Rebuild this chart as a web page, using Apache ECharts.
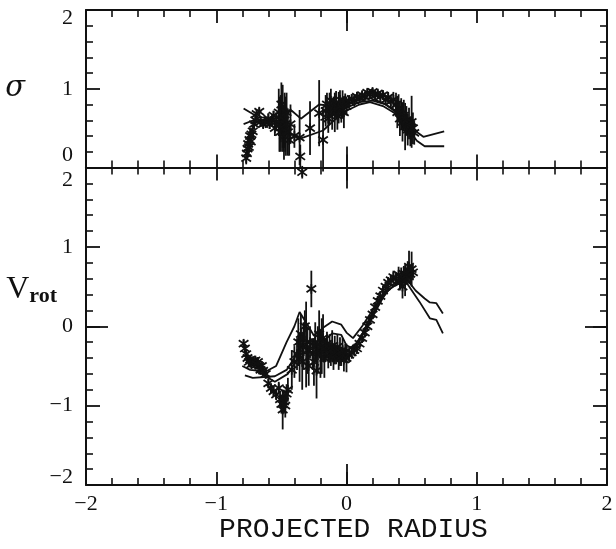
<!DOCTYPE html>
<html>
<head>
<meta charset="utf-8">
<script src="https://cdn.jsdelivr.net/npm/echarts@6.0.0/dist/echarts.min.js"></script>
<style>
  html, body { margin: 0; padding: 0; background: #fff; }
  #chart { width: 616px; height: 549px; }
</style>
</head>
<body>
<div id="chart"></div>
<script>
// sigma panel: x, value, half error bar
var sigmaX = [-0.77, -0.765, -0.76, -0.755, -0.75, -0.745, -0.74, -0.735, -0.73, -0.72, -0.71, -0.70, -0.69,
  -0.67, -0.66, -0.64, -0.62, -0.60, -0.59, -0.57, -0.56, -0.55, -0.54,
  -0.52, -0.515, -0.51, -0.505, -0.50, -0.495, -0.49, -0.485, -0.48, -0.475, -0.47, -0.465, -0.46, -0.45, -0.44, -0.43,
  -0.40, -0.36, -0.355, -0.34, -0.28, -0.21, -0.18,
  -0.16, -0.15, -0.14, -0.13, -0.12, -0.11, -0.10, -0.09, -0.08, -0.07, -0.06, -0.05, -0.04, -0.03, -0.02, -0.01, 0.00,
  0.02, 0.04, 0.06, 0.08, 0.10, 0.12, 0.14, 0.16, 0.18, 0.20, 0.22, 0.24, 0.26, 0.28, 0.30, 0.32, 0.34, 0.36,
  0.38, 0.39, 0.40, 0.41, 0.42, 0.43, 0.44, 0.45, 0.46, 0.47, 0.48, 0.49, 0.50, 0.51, 0.52];
var sigmaVal = [0.12, 0.18, 0.24, 0.30, 0.26, 0.35, 0.40, 0.33, 0.42, 0.46, 0.55, 0.60, 0.68,
  0.71, 0.58, 0.55, 0.57, 0.62, 0.55, 0.60, 0.66, 0.50, 0.58,
  0.70, 0.55, 0.45, 0.62, 0.80, 0.55, 0.65, 0.50, 0.40, 0.60, 0.55, 0.45, 0.70, 0.45, 0.35, 0.55,
  0.40, 0.38, 0.14, -0.06, 0.50, 0.69, 0.35,
  0.72, 0.80, 0.62, 0.75, 0.85, 0.68, 0.78, 0.70, 0.82, 0.66, 0.76, 0.86, 0.72, 0.80, 0.70, 0.84, 0.78,
  0.84, 0.87, 0.85, 0.90, 0.88, 0.92, 0.90, 0.95, 0.93, 0.96, 0.92, 0.94, 0.90, 0.92, 0.86, 0.89, 0.84, 0.86,
  0.80, 0.70, 0.75, 0.62, 0.68, 0.58, 0.66, 0.52, 0.60, 0.48, 0.56, 0.45, 0.58, 0.50, 0.44];
var sigmaErr = [0.08, 0.08, 0.10, 0.10, 0.12, 0.10, 0.10, 0.10, 0.08, 0.08, 0.06, 0.06, 0.05,
  0.05, 0.06, 0.05, 0.06, 0.07, 0.06, 0.08, 0.06, 0.10, 0.12,
  0.30, 0.35, 0.25, 0.30, 0.28, 0.35, 0.40, 0.30, 0.30, 0.35, 0.35, 0.30, 0.25, 0.30, 0.20, 0.25,
  0.15, 0.35, 0.15, 0.08, 0.34, 0.42, 0.40,
  0.20, 0.15, 0.18, 0.20, 0.15, 0.20, 0.12, 0.25, 0.15, 0.18, 0.20, 0.12, 0.15, 0.18, 0.20, 0.10, 0.12,
  0.08, 0.06, 0.07, 0.06, 0.05, 0.05, 0.05, 0.05, 0.04, 0.05, 0.05, 0.05, 0.05, 0.06, 0.06, 0.07, 0.08, 0.10,
  0.15, 0.20, 0.18, 0.22, 0.20, 0.25, 0.20, 0.30, 0.18, 0.20, 0.20, 0.18, 0.33, 0.20, 0.15];

// rotation panel: x, value, half error bar
var vrotX = [-0.79, -0.78, -0.77, -0.76, -0.75, -0.74, -0.73, -0.72, -0.71, -0.70, -0.69, -0.68, -0.67, -0.66, -0.65, -0.64,
  -0.62, -0.60, -0.58, -0.56, -0.54, -0.52, -0.51, -0.50, -0.49, -0.48, -0.47, -0.46, -0.45,
  -0.42, -0.40, -0.38, -0.37, -0.36, -0.35, -0.34, -0.33, -0.32, -0.31, -0.30, -0.29, -0.28, -0.27, -0.26, -0.25, -0.24,
  -0.23, -0.22, -0.21, -0.20, -0.19, -0.18, -0.17, -0.16, -0.15, -0.14, -0.13, -0.12, -0.11, -0.10, -0.09, -0.08,
  -0.07, -0.06, -0.05, -0.04, -0.03, -0.02, -0.01, 0.00,
  0.02, 0.04, 0.06, 0.08, 0.10, 0.12, 0.14, 0.16, 0.18, 0.20, 0.22, 0.24, 0.26, 0.28, 0.30, 0.32, 0.34, 0.36,
  0.38, 0.40, 0.41, 0.42, 0.43, 0.44, 0.45, 0.46, 0.47, 0.48, 0.49, 0.50, 0.51];
var vrotVal = [-0.22, -0.28, -0.35, -0.40, -0.45, -0.42, -0.48, -0.44, -0.47, -0.43, -0.48, -0.45, -0.50, -0.55, -0.50, -0.56,
  -0.60, -0.72, -0.78, -0.82, -0.86, -0.78, -0.92, -0.98, -1.05, -0.95, -1.00, -0.85, -0.80,
  -0.55, -0.45, -0.35, -0.20, -0.40, -0.10, -0.45, -0.25, 0.00, -0.23, -0.30, -0.50, -0.20, 0.47, -0.35, -0.45, -0.20,
  -0.56, -0.30, -0.10, -0.35, -0.25, -0.15, -0.40, -0.30, -0.22, -0.38, -0.28, -0.35, -0.25, -0.40, -0.30, -0.36,
  -0.26, -0.40, -0.32, -0.38, -0.30, -0.42, -0.34, -0.40,
  -0.36, -0.33, -0.30, -0.28, -0.22, -0.15, -0.08, 0.00, 0.08, 0.15, 0.24, 0.32, 0.38, 0.45, 0.50, 0.55, 0.58, 0.62,
  0.60, 0.65, 0.55, 0.62, 0.50, 0.66, 0.58, 0.64, 0.70, 0.75, 0.66, 0.72, 0.68];
var vrotErr = [0.05, 0.05, 0.06, 0.05, 0.05, 0.05, 0.05, 0.05, 0.05, 0.05, 0.05, 0.06, 0.05, 0.06, 0.06, 0.06,
  0.06, 0.06, 0.06, 0.06, 0.07, 0.08, 0.10, 0.12, 0.25, 0.15, 0.15, 0.12, 0.15,
  0.25, 0.20, 0.20, 0.30, 0.30, 0.25, 0.35, 0.30, 0.20, 0.54, 0.30, 0.25, 0.20, 0.23, 0.20, 0.30, 0.25,
  0.35, 0.30, 0.30, 0.30, 0.35, 0.30, 0.25, 0.15, 0.15, 0.15, 0.18, 0.15, 0.20, 0.15, 0.18, 0.12,
  0.15, 0.15, 0.18, 0.12, 0.15, 0.15, 0.12, 0.18,
  0.10, 0.08, 0.08, 0.07, 0.07, 0.06, 0.06, 0.06, 0.06, 0.06, 0.06, 0.06, 0.06, 0.06, 0.06, 0.07, 0.07, 0.08,
  0.08, 0.10, 0.10, 0.12, 0.15, 0.10, 0.20, 0.10, 0.12, 0.20, 0.12, 0.22, 0.10];

// model curves
var sigmaModel1 = [[-0.79, 0.75], [-0.68, 0.64], [-0.55, 0.62], [-0.42, 0.72], [-0.35, 0.62], [-0.21, 0.80], [-0.10, 0.78],
  [0.00, 0.80], [0.10, 0.86], [0.18, 0.88], [0.28, 0.82], [0.38, 0.72], [0.46, 0.58], [0.54, 0.45], [0.59, 0.39], [0.75, 0.46]];
var sigmaModel2 = [[-0.79, 0.55], [-0.70, 0.61], [-0.55, 0.58], [-0.45, 0.45], [-0.35, 0.37], [-0.18, 0.47], [-0.08, 0.62],
  [0.00, 0.72], [0.10, 0.80], [0.18, 0.83], [0.28, 0.78], [0.38, 0.68], [0.46, 0.52], [0.54, 0.34], [0.60, 0.27], [0.75, 0.27]];
var sigmaModel3 = [[-0.20, 0.60], [0.00, 0.76], [0.10, 0.83], [0.20, 0.85], [0.30, 0.80], [0.40, 0.68], [0.50, 0.48]];

var vrotModel1 = [[-0.80, -0.50], [-0.74, -0.55], [-0.62, -0.57], [-0.54, -0.50], [-0.46, -0.20], [-0.40, 0.00], [-0.36, 0.18],
  [-0.30, 0.02], [-0.25, -0.12], [-0.18, -0.02], [-0.11, 0.06], [-0.04, 0.02], [0.00, -0.08], [0.05, -0.15], [0.12, 0.00],
  [0.18, 0.15], [0.26, 0.35], [0.33, 0.50], [0.40, 0.57], [0.46, 0.60], [0.53, 0.45], [0.60, 0.35], [0.64, 0.30],
  [0.69, 0.29], [0.74, 0.16]];
var vrotModel2 = [[-0.78, -0.62], [-0.72, -0.65], [-0.55, -0.63], [-0.46, -0.55], [-0.40, -0.40], [-0.35, -0.25], [-0.28, -0.30],
  [-0.23, -0.25], [-0.17, -0.18], [-0.11, -0.09], [-0.04, -0.11], [0.00, -0.24], [0.05, -0.28], [0.12, -0.10], [0.18, 0.10],
  [0.26, 0.32], [0.33, 0.47], [0.40, 0.54], [0.46, 0.55], [0.56, 0.31], [0.64, 0.10], [0.69, 0.08], [0.74, -0.09]];
var vrotModel3 = [[-0.70, -0.55], [-0.55, -0.70], [-0.45, -0.60], [-0.35, -0.35], [-0.20, -0.30], [0.00, -0.32], [0.10, -0.18],
  [0.20, 0.12], [0.30, 0.42], [0.40, 0.56], [0.48, 0.58]];

var xTicks = [-2, -1, 0, 1, 2];

function zip(xs, ys, es) {
  var out = [];
  for (var i = 0; i < xs.length; i++) {
    out.push([xs[i], ys[i], es[i]]);
  }
  return out;
}

function fmt(v) {
  return v < 0 ? '\u2212' + (-v) : String(v);
}

var chart = echarts.init(document.getElementById('chart'));

var ink = '#111';
var labelFont = 'Liberation Serif';

function xAx(grid, pos, showLabel) {
  return {
    type: 'value', gridIndex: grid, position: pos, min: -2, max: 2, interval: 1,
    axisLine: { show: true, onZero: false, lineStyle: { color: ink, width: 2 } },
    axisTick: { show: true, inside: true, length: 13, lineStyle: { color: ink, width: 1.8 } },
    minorTick: { show: true, splitNumber: 5, length: 7, lineStyle: { color: ink, width: 1.6 } },
    axisLabel: {
      show: showLabel, color: ink, fontFamily: labelFont, fontSize: 22, margin: 8,
      customValues: xTicks, formatter: fmt
    },
    splitLine: { show: false }
  };
}

// extra axis used only for the longer tick at zero
function xZero(grid, pos) {
  return {
    type: 'value', gridIndex: grid, position: pos, min: -2, max: 2, interval: 1,
    axisLine: { show: false, onZero: false },
    axisTick: { show: true, inside: true, length: 21, customValues: [0], lineStyle: { color: ink, width: 1.8 } },
    axisLabel: { show: false },
    splitLine: { show: false }
  };
}

function yAx(grid, pos, min, max, showLabel, formatter) {
  return {
    type: 'value', gridIndex: grid, position: pos, min: min, max: max, interval: 1,
    axisLine: { show: true, onZero: false, lineStyle: { color: ink, width: 2 } },
    axisTick: { show: true, inside: true, length: 14, lineStyle: { color: ink, width: 1.8 } },
    minorTick: { show: true, splitNumber: 5, length: 7, lineStyle: { color: ink, width: 1.6 } },
    axisLabel: {
      show: showLabel, color: ink, fontFamily: labelFont, fontSize: 22, margin: 13,
      formatter: formatter,
      rich: {
        s8: { lineHeight: 16, fontSize: 22, fontFamily: labelFont },
        s12: { lineHeight: 25, fontSize: 22, fontFamily: labelFont },
        n: { lineHeight: 20, fontSize: 22, fontFamily: labelFont, color: ink }
      }
    },
    splitLine: { show: false }
  };
}

function yZero(grid, pos, min, max) {
  return {
    type: 'value', gridIndex: grid, position: pos, min: min, max: max, interval: 1,
    axisLine: { show: false, onZero: false },
    axisTick: { show: true, inside: true, length: 22, customValues: [0], lineStyle: { color: ink, width: 1.8 } },
    axisLabel: { show: false },
    splitLine: { show: false }
  };
}

function starItem(params, api) {
  var x = api.value(0), y = api.value(1), e = api.value(2);
  var c = api.coord([x, y]);
  var hi = api.coord([x, y + e]);
  var lo = api.coord([x, y - e]);
  var s = 4.8, t = 3.4;
  var st = { stroke: ink, lineWidth: 1.8 };
  return {
    type: 'group',
    children: [
      { type: 'line', shape: { x1: c[0], y1: hi[1], x2: c[0], y2: lo[1] }, style: st },
      { type: 'line', shape: { x1: c[0], y1: c[1] - s, x2: c[0], y2: c[1] + s }, style: st },
      { type: 'line', shape: { x1: c[0] - s, y1: c[1] - t, x2: c[0] + s, y2: c[1] + t }, style: st },
      { type: 'line', shape: { x1: c[0] - s, y1: c[1] + t, x2: c[0] + s, y2: c[1] - t }, style: st }
    ]
  };
}

function model(name, xi, yi, data) {
  return {
    name: name, type: 'line', xAxisIndex: xi, yAxisIndex: yi, data: data,
    showSymbol: false, clip: false, silent: true,
    lineStyle: { color: ink, width: 1.8 }, z: 3
  };
}

var option = {
  backgroundColor: '#fff',
  animation: false,
  grid: [
    { left: 86, top: 10, width: 521, height: 157.5, containLabel: false, outerBoundsMode: 'none' },
    { left: 86, top: 167.5, width: 521, height: 317.5, containLabel: false, outerBoundsMode: 'none' }
  ],
  xAxis: [
    xAx(0, 'bottom', false),
    xAx(0, 'top', false),
    (function () {
      var a = xAx(1, 'bottom', true);
      a.name = 'PROJECTED RADIUS';
      a.nameLocation = 'middle';
      a.nameGap = 31;
      a.nameMoveOverlap = false;
      a.nameTextStyle = { color: ink, fontFamily: 'Liberation Mono', fontSize: 28, padding: [0, 0, 0, 14] };
      return a;
    })(),
    xAx(1, 'top', false),
    xZero(0, 'bottom'), xZero(0, 'top'), xZero(1, 'bottom'), xZero(1, 'top')
  ],
  yAxis: [
    (function () {
      var a = yAx(0, 'left', 0, 2, true, function (v) {
        if (v === 2) return '{s8| }\n{n|2}';
        if (v === 0) return '{n|0}\n{s12| }';
        return '{n|' + fmt(v) + '}';
      });
      a.name = '{sig|\u03c3}';
      a.nameLocation = 'middle';
      a.nameRotate = 0;
      a.nameGap = 61;
      a.nameMoveOverlap = false;
      a.nameTextStyle = { rich: { sig: { fontFamily: 'DejaVu Serif', fontStyle: 'italic', fontSize: 29, color: ink } } };
      return a;
    })(),
    yAx(0, 'right', 0, 2, false),
    (function () {
      var a = yAx(1, 'left', -2, 2, true, function (v) {
        if (v === 2) return '{s12| }\n{n|2}';
        if (v === -2) return '{n|' + fmt(v) + '}\n{s8| }';
        return '{n|' + fmt(v) + '}';
      });
      a.name = '{v|V}{r|rot}';
      a.nameLocation = 'middle';
      a.nameRotate = 0;
      a.nameGap = 29;
      a.nameMoveOverlap = false;
      a.nameTextStyle = {
        padding: [0, 0, 72, 0],
        rich: {
          v: { fontFamily: 'Liberation Serif', fontSize: 32, color: ink, lineHeight: 34, verticalAlign: 'top' },
          r: { fontFamily: 'Liberation Serif', fontWeight: 'bold', fontSize: 22, color: ink, lineHeight: 34, verticalAlign: 'bottom' }
        }
      };
      return a;
    })(),
    yAx(1, 'right', -2, 2, false),
    yZero(1, 'left', -2, 2), yZero(1, 'right', -2, 2)
  ],
  series: [
    model('sigma model 1', 0, 0, sigmaModel1),
    model('sigma model 2', 0, 0, sigmaModel2),
    model('sigma model 3', 0, 0, sigmaModel3),
    model('vrot model 1', 2, 2, vrotModel1),
    model('vrot model 2', 2, 2, vrotModel2),
    model('vrot model 3', 2, 2, vrotModel3),
    {
      name: 'sigma', type: 'custom', xAxisIndex: 0, yAxisIndex: 0, clip: false, silent: true,
      renderItem: starItem, data: zip(sigmaX, sigmaVal, sigmaErr), z: 4
    },
    {
      name: 'vrot', type: 'custom', xAxisIndex: 2, yAxisIndex: 2, clip: false, silent: true,
      renderItem: starItem, data: zip(vrotX, vrotVal, vrotErr), z: 4
    }
  ]
};

chart.setOption(option);
window.addEventListener('resize', function () {
  chart.resize();
});
</script>
</body>
</html>
